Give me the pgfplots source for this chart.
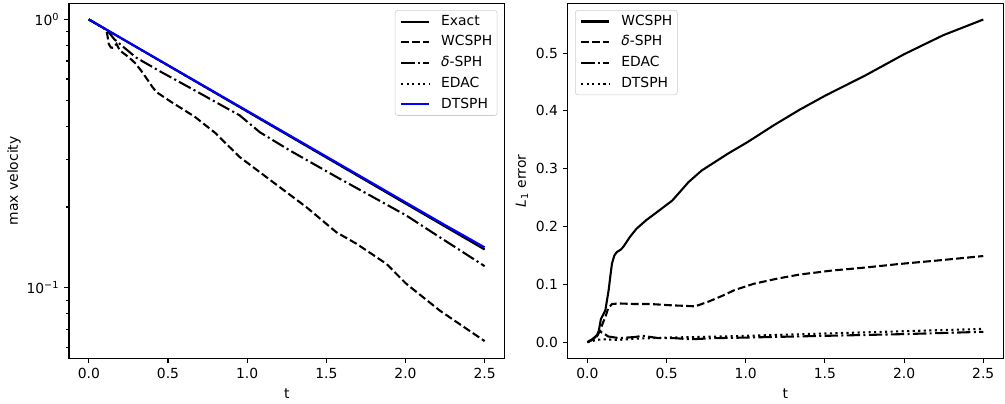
\documentclass[border=0pt]{standalone}
\usepackage{fontspec}
\setmainfont{DejaVu Sans}
\usepackage{pgfplots}
\pgfplotsset{compat=1.18}

\pgfplotsset{
  mpl/.style={
    scale only axis, width=313.5pt, height=255.6pt,
    anchor=south west,
    axis line style={line width=0.8pt},
    every tick/.style={black, line width=0.8pt},
    tick align=outside, tick pos=left,
    major tick length=3.5pt, minor tick length=2pt,
    /pgf/number format/assume math mode=true,
    xmin=-0.125, xmax=2.625, xtick={0,0.5,1,1.5,2,2.5},
    xticklabel style={/pgf/number format/.cd, fixed, fixed zerofill, precision=1},
    xlabel={t},
    xlabel style={at={(axis description cs:0.5,-0.098)}, anchor=center},
    legend cell align=left,
    legend style={draw=black!20, fill=white, rounded corners=2pt,
      inner xsep=3.6pt, inner ysep=3.2pt, row sep=5.2pt, column sep=8pt,
      nodes={inner sep=0pt, text height=7.5pt, text depth=2.2pt}},
    legend image code/.code={\draw[line width=1.5pt, #1] (0pt,0pt) -- (20pt,0pt);},
    every axis plot/.append style={line width=1.5pt},
  },
  dashedmpl/.style={dash pattern=on 5.55pt off 2.4pt},
  dashdotmpl/.style={dash pattern=on 9.6pt off 2.4pt on 1.5pt off 2.4pt},
  dottedmpl/.style={dash pattern=on 1.5pt off 2.475pt},
}

\begin{document}
\begin{tikzpicture}
\path[use as bounding box] (0,0) rectangle (723.6pt,290.2pt);

\begin{axis}[mpl, at={(49.7pt,32.2pt)},
  ymode=log, ymin=0.0546, ymax=1.148,
  ytick={0.1,1}, yticklabels={10\textsuperscript{−1},10\textsuperscript{0}},
  minor ytick={0.06,0.07,0.08,0.09,0.2,0.3,0.4,0.5,0.6,0.7,0.8,0.9},
  ylabel={max velocity},
  ylabel style={at={(axis description cs:-0.1264,0.5)}, anchor=center},
  legend style={at={(0.984,0.981)}, anchor=north east},
]
% Exact
\addplot[black] coordinates {(0,1.0) (0.25,0.8209) (0.5,0.6738) (0.75,0.5531) (1.0,0.4540) (1.25,0.3727) (1.5,0.3059) (1.75,0.2511) (2.0,0.2061) (2.25,0.1692) (2.5,0.1389)};
% WCSPH
\addplot[black, dashedmpl] coordinates {(0,1.0) (0.05,0.9613) (0.1,0.924) (0.115,0.89) (0.126,0.81) (0.14,0.785) (0.155,0.784) (0.175,0.81) (0.196,0.766) (0.25,0.725) (0.29,0.69) (0.33,0.645) (0.364,0.604) (0.40,0.562) (0.427,0.536) (0.522,0.492) (0.669,0.434) (0.8,0.377) (0.953,0.307) (1.164,0.2475) (1.374,0.1998) (1.564,0.161) (1.69,0.146) (1.879,0.1229) (2.005,0.1035) (2.216,0.0823) (2.5,0.0633)};
% delta-SPH
\addplot[black, dashdotmpl] coordinates {(0,1.0) (0.1,0.924) (0.13,0.89) (0.16,0.845) (0.185,0.82) (0.3,0.72) (0.459,0.636) (0.669,0.544) (0.859,0.471) (0.953,0.439) (1.08,0.380) (1.269,0.325) (1.585,0.2548) (1.795,0.2178) (2.005,0.186) (2.216,0.1544) (2.5,0.1204)};
% EDAC
\addplot[black, dottedmpl] coordinates {(0,1.0) (0.5,0.674) (1.0,0.4545) (1.5,0.3065) (2.0,0.2068) (2.5,0.1395)};
% DTSPH
\addplot[blue] coordinates {(0,1.0) (0.25,0.8218) (0.5,0.6755) (0.75,0.5553) (1.0,0.4565) (1.25,0.3752) (1.5,0.3084) (1.75,0.2535) (2.0,0.2083) (2.25,0.1713) (2.5,0.1415)};
\legend{Exact,WCSPH,{\itshape δ}-SPH,EDAC,DTSPH}
\end{axis}

\begin{axis}[mpl, at={(408.7pt,32.2pt)},
  ymin=-0.0279, ymax=0.586,
  ytick={0,0.1,0.2,0.3,0.4,0.5},
  yticklabel style={/pgf/number format/.cd, fixed, fixed zerofill, precision=1},
  ylabel={\textit{L}\textsubscript{1} error},
  ylabel style={at={(axis description cs:-0.105,0.5)}, anchor=center},
  legend style={at={(0.017,0.981)}, anchor=north west},
]
% WCSPH
\addplot[black] coordinates {(0,0) (0.02,0.003) (0.04,0.006) (0.06,0.012) (0.072,0.02) (0.085,0.04) (0.1,0.048) (0.113,0.055) (0.125,0.075) (0.134,0.09) (0.145,0.115) (0.155,0.136) (0.17,0.15) (0.186,0.156) (0.21,0.16) (0.227,0.165) (0.268,0.182) (0.309,0.196) (0.371,0.211) (0.454,0.228) (0.536,0.245) (0.639,0.277) (0.722,0.297) (0.887,0.326) (1.011,0.346) (1.176,0.375) (1.34,0.402) (1.506,0.427) (1.753,0.461) (2.0,0.498) (2.248,0.531) (2.5,0.558)};
% delta-SPH
\addplot[black, dashedmpl] coordinates {(0,0) (0.03,0.004) (0.06,0.01) (0.08,0.02) (0.1,0.035) (0.114,0.044) (0.13,0.058) (0.155,0.066) (0.2,0.067) (0.3,0.066) (0.4,0.066) (0.516,0.064) (0.6,0.063) (0.68,0.062) (0.763,0.07) (0.85,0.08) (0.928,0.09) (1.05,0.101) (1.2,0.11) (1.34,0.117) (1.547,0.124) (1.75,0.129) (1.96,0.135) (2.2,0.141) (2.5,0.149)};
% EDAC
\addplot[black, dashdotmpl] coordinates {(0,0) (0.03,0.005) (0.06,0.012) (0.08,0.018) (0.1,0.016) (0.13,0.01) (0.2,0.007) (0.3,0.009) (0.35,0.011) (0.45,0.007) (0.55,0.007) (0.65,0.005) (0.8,0.007) (1.0,0.008) (1.25,0.0095) (1.5,0.011) (1.75,0.0125) (2.0,0.014) (2.25,0.016) (2.5,0.018)};
% DTSPH
\addplot[black, dottedmpl] coordinates {(0,0) (0.03,0.002) (0.06,0.004) (0.1,0.005) (0.2,0.004) (0.3,0.006) (0.4,0.007) (0.5,0.008) (0.7,0.009) (1.0,0.011) (1.25,0.013) (1.5,0.015) (1.75,0.017) (2.0,0.019) (2.25,0.021) (2.5,0.023)};
\legend{WCSPH,{\itshape δ}-SPH,EDAC,DTSPH}
\end{axis}
\end{tikzpicture}
\end{document}
